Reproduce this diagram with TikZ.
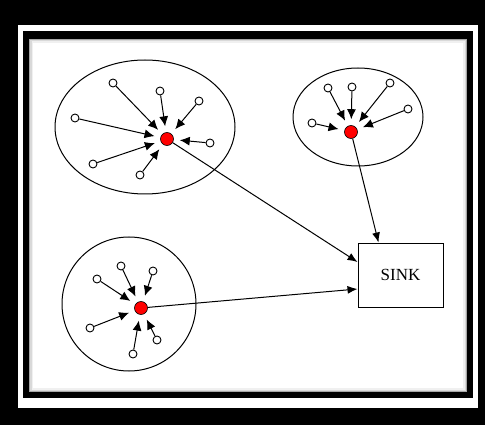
\documentclass[tikz,border=0pt]{standalone}
\usepackage{fontspec}
\setmainfont{Liberation Serif}
\usetikzlibrary{arrows.meta,calc}
\begin{document}
\begin{tikzpicture}[x=1pt,y=-1pt,
  leaf/.style={circle,draw,line width=0.9pt,fill=white,minimum size=8pt,inner sep=0pt},
  head/.style={circle,draw,line width=0.6pt,fill=red,minimum size=13pt,inner sep=0pt},
  clus/.style={draw,line width=1pt},
  feed/.style={line width=1pt,-{Latex[length=10pt,width=9pt]},shorten >=6pt},
  link/.style={line width=1pt,-{Latex[length=10pt,width=8pt]}},
  sinkbox/.style={draw,line width=1pt,minimum width=85pt,minimum height=64pt,font=\fontsize{17}{20}\selectfont}]
% frame
\fill[black] (0,0) rectangle (485,425);
\fill[white] (18,25) rectangle (478,408);
\fill[black] (23,31) rectangle (473,398);
\fill[black!35] (29,39) rectangle (467,392);
\fill[black!15] (30,40) rectangle (466,391);
\fill[black!6] (31.5,41.5) rectangle (464.5,389.5);
\fill[white] (33,43) rectangle (463,388);
\useasboundingbox (0,0) rectangle (485,425);
% clusters
\draw[clus] (145,127) ellipse [x radius=90, y radius=67];
\draw[clus] (358,117) ellipse [x radius=65, y radius=49];
\draw[clus] (129,304) ellipse [x radius=67, y radius=67];
% sink
\node[sinkbox] (sink) at (400.5,275) {SINK};
% cluster 1
\node[head] (h1) at (167,139) {};
\foreach \n/\p in {a/{(75,118)},b/{(113,83)},c/{(160,91)},d/{(199,101)},e/{(210,143)},f/{(93,164)},g/{(140,175)}}{
  \node[leaf] (l1\n) at \p {};
  \draw[feed] (l1\n) -- (h1);
}
% cluster 2
\node[head] (h2) at (351,132) {};
\foreach \n/\p in {a/{(328,88)},b/{(352,87)},c/{(390,83)},d/{(408,109)},e/{(312,123)}}{
  \node[leaf] (l2\n) at \p {};
  \draw[feed] (l2\n) -- (h2);
}
% cluster 3
\node[head] (h3) at (141,308) {};
\foreach \n/\p in {a/{(97,279)},b/{(121,266)},c/{(153,271)},d/{(90,328)},e/{(133,354)},f/{(157,340)}}{
  \node[leaf] (l3\n) at \p {};
  \draw[feed] (l3\n) -- (h3);
}
% links to sink
\coordinate (s1) at ([yshift=13pt]sink.west);
\coordinate (s3) at ([yshift=-14pt]sink.west);
\coordinate (s2) at ([xshift=-22pt]sink.north);
\draw[link] (h1) -- (s1);
\draw[link] (h3) -- (s3);
\draw[link] (h2) -- (s2);
\end{tikzpicture}
\end{document}
